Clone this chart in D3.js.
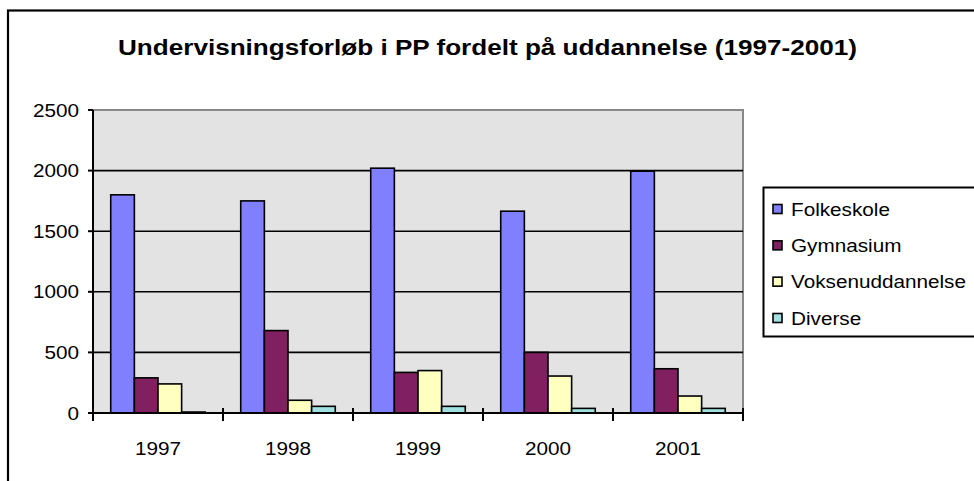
<!DOCTYPE html>
<html>
<head>
<meta charset="utf-8">
<script src="https://cdn.jsdelivr.net/npm/d3@7"></script>
<style>
  body { margin: 0; background: #fff; }
  text { font-family: "Liberation Sans", Arial, sans-serif; fill: #000; }
</style>
</head>
<body>
<svg id="chart" width="974" height="481"></svg>
<script>
// DATA
const years = ["1997", "1998", "1999", "2000", "2001"];
const seriesNames = ["Folkeskole", "Gymnasium", "Voksenuddannelse", "Diverse"];
const folkeskole = [1800, 1750, 2020, 1665, 1995];
const gymnasium = [290, 680, 335, 500, 365];
const voksenuddannelse = [240, 105, 350, 305, 140];
const diverse = [8, 55, 55, 38, 38];
const yTicks = [0, 500, 1000, 1500, 2000, 2500];
const titleText = "Undervisningsforløb i PP fordelt på uddannelse (1997-2001)";

const seriesValues = [folkeskole, gymnasium, voksenuddannelse, diverse];
const colors = ["#8080ff", "#802060", "#ffffc0", "#a0e0e0"];

const svg = d3.select("#chart");

// CANVAS SETUP
const plot = { left: 93, right: 743, top: 110, bottom: 413 };
const sx = 1.12; // text in the picture is a bit wider than tall

// stretched text helper
function label(parent, x, y, txt, size, anchor, weight) {
  const g = parent.append("g").attr("transform", `translate(${x},${y}) scale(${sx},1)`);
  g.append("text")
    .attr("text-anchor", anchor || "start")
    .attr("font-size", size)
    .attr("font-weight", weight || "normal")
    .text(txt);
  return g;
}

// outer frame
svg.append("rect")
  .attr("x", 8).attr("y", 10.5)
  .attr("width", 1000).attr("height", 500)
  .attr("fill", "#fff")
  .attr("stroke", "#000")
  .attr("stroke-width", 2.2);

// title
svg.append("text")
  .attr("x", 487.5).attr("y", 55)
  .attr("text-anchor", "middle")
  .attr("font-size", 22.5)
  .attr("font-weight", "bold")
  .attr("textLength", 739)
  .attr("lengthAdjust", "spacingAndGlyphs")
  .text(titleText);

// SCALES
const x0 = d3.scaleBand().domain(years).range([plot.left, plot.right]).padding(0);
const gapWidth = 1.5;
const barW = x0.bandwidth() / (seriesNames.length + gapWidth);
const x1 = d3.scaleBand()
  .domain(seriesNames)
  .range([barW * gapWidth / 2, barW * gapWidth / 2 + barW * seriesNames.length])
  .padding(0);
const y = d3.scaleLinear().domain([0, 2500]).range([plot.bottom, plot.top]);

// plot area background
svg.append("rect")
  .attr("x", plot.left).attr("y", plot.top)
  .attr("width", plot.right - plot.left)
  .attr("height", plot.bottom - plot.top)
  .attr("fill", "#e3e3e3")
  .attr("stroke", "#888")
  .attr("stroke-width", 2);

// gridlines
svg.append("g")
  .selectAll("line")
  .data(yTicks.filter((d) => d > 0 && d < 2500))
  .join("line")
  .attr("x1", plot.left).attr("x2", plot.right)
  .attr("y1", (d) => y(d)).attr("y2", (d) => y(d))
  .attr("stroke", "#000")
  .attr("stroke-width", 1.6);

// RENDER bars
const data = [];
years.forEach((yr, i) => {
  seriesNames.forEach((s, j) => {
    data.push({ year: yr, key: s, value: seriesValues[j][i], color: colors[j] });
  });
});

svg.append("g")
  .selectAll("rect")
  .data(data)
  .join("rect")
  .attr("x", (d) => x0(d.year) + x1(d.key))
  .attr("y", (d) => y(d.value))
  .attr("width", x1.bandwidth())
  .attr("height", (d) => plot.bottom - y(d.value))
  .attr("fill", (d) => d.color)
  .attr("stroke", "#000")
  .attr("stroke-width", 1.6);

// y axis
const yAxis = svg.append("g");
yAxis.append("line")
  .attr("x1", plot.left).attr("x2", plot.left)
  .attr("y1", plot.top).attr("y2", plot.bottom)
  .attr("stroke", "#000").attr("stroke-width", 2);
yAxis.selectAll("line.tick")
  .data(yTicks)
  .join("line")
  .attr("class", "tick")
  .attr("x1", plot.left - 5).attr("x2", plot.left)
  .attr("y1", (d) => y(d)).attr("y2", (d) => y(d))
  .attr("stroke", "#000").attr("stroke-width", 2);
yTicks.forEach((t) => label(yAxis, 79, y(t) + 6.5, d3.format("d")(t), 18.5, "end"));

// x axis
const xAxis = svg.append("g");
xAxis.append("line")
  .attr("x1", plot.left).attr("x2", plot.right)
  .attr("y1", plot.bottom).attr("y2", plot.bottom)
  .attr("stroke", "#000").attr("stroke-width", 2);
const xTickPos = years.map((d) => x0(d)).concat([plot.right]);
xAxis.selectAll("line.tick")
  .data(xTickPos)
  .join("line")
  .attr("class", "tick")
  .attr("x1", (d) => d).attr("x2", (d) => d)
  .attr("y1", plot.bottom - 5).attr("y2", plot.bottom + 8)
  .attr("stroke", "#000").attr("stroke-width", 2);
years.forEach((yr) => label(xAxis, x0(yr) + x0.bandwidth() / 2, 455, yr, 18.5, "middle"));

// legend
const legend = svg.append("g");
legend.append("rect")
  .attr("x", 763.5).attr("y", 187.5)
  .attr("width", 260).attr("height", 149)
  .attr("fill", "#fff")
  .attr("stroke", "#000").attr("stroke-width", 2);
const legendY = d3.scalePoint().domain(seriesNames).range([209, 318]);
seriesNames.forEach((s, j) => {
  legend.append("rect")
    .attr("x", 773).attr("y", legendY(s) - 4.5)
    .attr("width", 9).attr("height", 9)
    .attr("fill", colors[j])
    .attr("stroke", "#000").attr("stroke-width", 1.6);
  label(legend, 791, legendY(s) + 6.5, s, 18.5, "start");
});
</script>
</body>
</html>
